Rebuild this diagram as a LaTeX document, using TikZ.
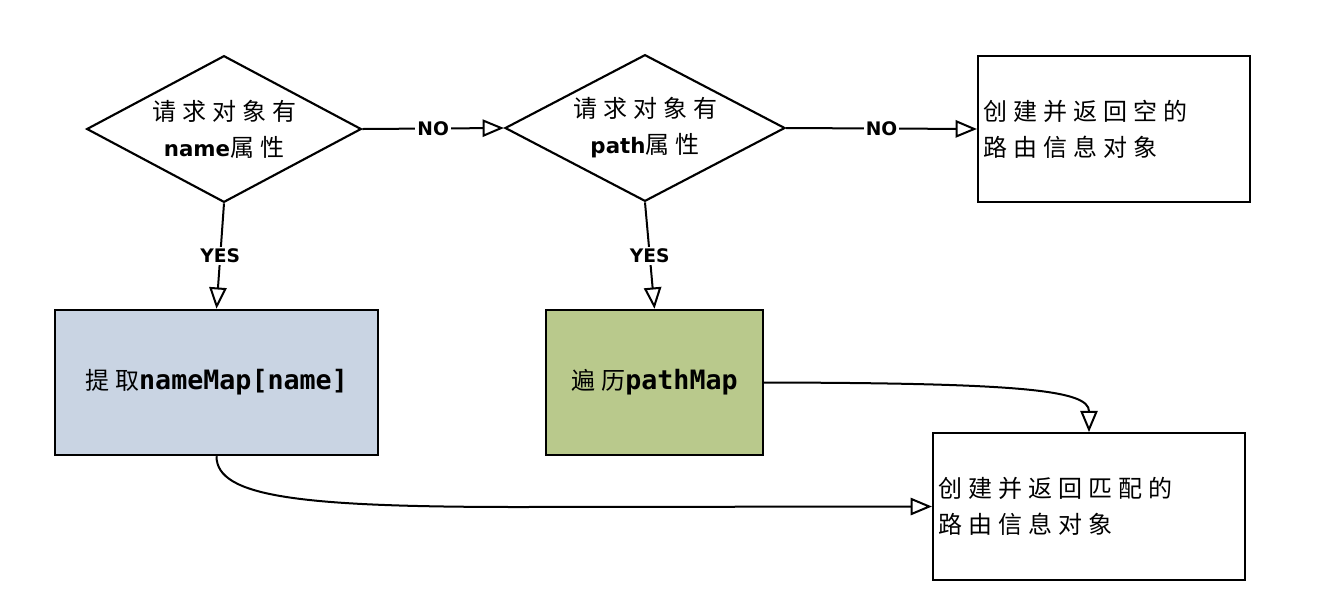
\documentclass[tikz,border=0pt]{standalone}
\usepackage{fontspec}
\newfontfamily\cjk[LetterSpace=25]{Noto Sans CJK SC}
\newfontfamily\codefont{DejaVu Sans Mono}
\newfontfamily\labelfont{DejaVu Sans}
\usepackage{tikz}
\usetikzlibrary{shapes,arrows.meta}

\definecolor{nameblue}{RGB}{201,212,227}
\definecolor{pathgreen}{RGB}{185,201,140}

\tikzset{
  decision/.style={diamond, draw, line width=1.6pt, inner sep=0pt, aspect=1.88, minimum width=206pt, minimum height=110pt, align=center, font=\fontsize{18}{27}\selectfont},
  procbox/.style={rectangle, draw, line width=1.6pt, minimum height=109pt, align=center},
  endbox/.style={rectangle, draw, line width=1.6pt, minimum height=110pt, align=left, inner sep=4pt, font=\fontsize{18}{27}\selectfont},
  conn/.style={line width=1.5pt, -{Triangle[open, length=16pt, width=13pt]}},
  yn/.style={fill=white, inner sep=1.5pt, font=\labelfont\bfseries\fontsize{14}{14}\selectfont}
}

\begin{document}
\begin{tikzpicture}[x=0.75pt,y=0.75pt,yscale=-1,xscale=1]
    \useasboundingbox (0,0) rectangle (1340,612);

    %Shape: Diamond
    \node[decision] (askName) at (224,129) {{\cjk 请求对象有}\\{\labelfont\bfseries\fontsize{16}{27}\selectfont name}{\cjk 属性}};
    %Shape: Diamond
    \node[decision, minimum width=210pt] (askPath) at (645,128) {{\cjk 请求对象有}\\{\labelfont\bfseries\fontsize{16}{27}\selectfont path}{\cjk 属性}};
    %Shape: Rectangle
    \node[endbox, text width=196pt] (emptyInfo) at (1114,129) {{\cjk 创建并返回空的}\\{\cjk 路由信息对象}};
    %Shape: Rectangle
    \node[procbox, fill=nameblue, minimum width=242pt] (nameMap) at (216.5,382.5) {{\fontsize{18}{27}\selectfont\cjk 提取}{\codefont\bfseries\fontsize{20}{27}\selectfont nameMap[name]}};
    %Shape: Rectangle
    \node[procbox, fill=pathgreen, minimum width=163pt] (pathMap) at (654.5,382.5) {{\fontsize{18}{27}\selectfont\cjk 遍历}{\codefont\bfseries\fontsize{20}{27}\selectfont pathMap}};
    %Shape: Rectangle
    \node[endbox, text width=226pt] (matchInfo) at (1089,506.5) {{\cjk 创建并返回匹配的}\\{\cjk 路由信息对象}};

    %Straight Lines
    \draw[conn] (askName.east) -- node[yn] {NO} (askPath.west);
    %Straight Lines
    \draw[conn] (askPath.east) -- node[yn] {NO} (emptyInfo.west);
    %Straight Lines
    \draw[conn] (askName.south) -- node[yn] {YES} (nameMap.north);
    %Straight Lines
    \draw[conn] (askPath.south) -- node[yn] {YES} (pathMap.north);
    %Curve Lines
    \draw[conn] (pathMap.east) .. controls (1020,383) and (1089,390) .. (matchInfo.north);
    %Curve Lines
    \draw[conn] (nameMap.south) .. controls (216.5,497) and (300,507) .. (520,507) -- (matchInfo.west);

\end{tikzpicture}
\end{document}
